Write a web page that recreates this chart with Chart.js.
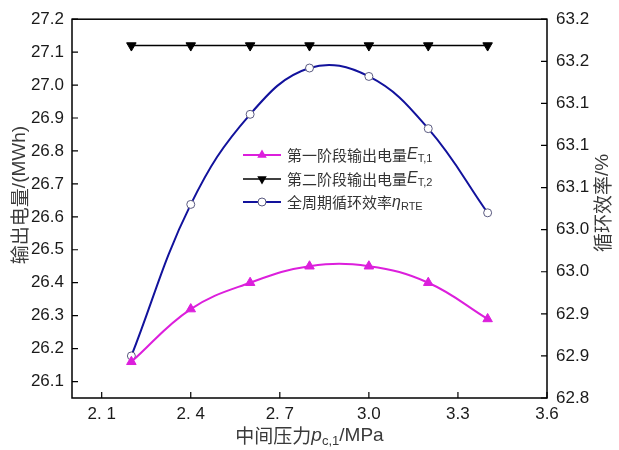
<!DOCTYPE html>
<html>
<head>
<meta charset="utf-8">
<script src="https://cdn.jsdelivr.net/npm/chart.js@4.4.0/dist/chart.umd.min.js"></script>
<style>
  html, body { margin: 0; padding: 0; background: #fff; }
</style>
</head>
<body>
<canvas id="chart" width="619" height="450"></canvas>
<script>
(function(){

// data
var pressure = [2.2, 2.4, 2.6, 2.8, 3.0, 3.2, 3.4];
var stage1 = [26.16, 26.32, 26.40, 26.45, 26.45, 26.40, 26.29];
var stage2 = [27.12, 27.12, 27.12, 27.12, 27.12, 27.12, 27.12];
var rte = [62.85, 63.03, 63.137, 63.192, 63.182, 63.12, 63.02];

// tick values and labels
var xTicks = [2.1, 2.4, 2.7, 3.0, 3.3, 3.6];
var xTickLabels = ["2. 1", "2. 4", "2. 7", "3.0", "3.3", "3.6"];
var leftTicks = [26.1, 26.2, 26.3, 26.4, 26.5, 26.6, 26.7, 26.8, 26.9, 27.0, 27.1, 27.2];
var rightTicks = [62.8, 62.85, 62.9, 62.95, 63.0, 63.05, 63.1, 63.15, 63.2, 63.25];
var rightTickLabels = ["62.8", "62.9", "62.9", "63.0", "63.0", "63.1", "63.1", "63.1", "63.2", "63.2"];

var MAGENTA = "#dc1fdc";
var NAVY = "#12129c";
var CJK = '"Noto Sans CJK SC"';
var LAT = '"Liberation Sans", Arial';

function setTicks(arr){
  return function(scale){
    scale.ticks = arr.map(function(v){ return {value: v}; });
  };
}

// draw a run of text pieces (different fonts / baselines) starting at x
function richWidth(ctx, parts){
  var w = 0;
  parts.forEach(function(p){ ctx.font = p.font; w += ctx.measureText(p.t).width; });
  return w;
}
function drawRich(ctx, parts, x, y){
  parts.forEach(function(p){
    ctx.font = p.font;
    ctx.fillText(p.t, x, y + (p.dy || 0));
    x += ctx.measureText(p.t).width;
  });
}

function marker(ctx, style, x, y){
  ctx.save();
  ctx.beginPath();
  if (style == "up" || style == "down"){
    var r = 5.5, s = (style == "up") ? 1 : -1;
    ctx.moveTo(x, y - s * r);
    ctx.lineTo(x + r * 0.866, y + s * r * 0.5);
    ctx.lineTo(x - r * 0.866, y + s * r * 0.5);
    ctx.closePath();
    ctx.fillStyle = (style == "up") ? MAGENTA : "#000";
    ctx.fill();
  } else {
    ctx.arc(x, y, 4, 0, Math.PI * 2);
    ctx.fillStyle = "#fff";
    ctx.fill();
    ctx.lineWidth = 1;
    ctx.strokeStyle = "#5a5a80";
    ctx.stroke();
  }
  ctx.restore();
}

var decor = {
  id: "decor",
  afterDraw: function(chart){
    var ctx = chart.ctx, a = chart.chartArea;
    var sx = chart.scales.x, sl = chart.scales.y, sr = chart.scales.y1;
    ctx.save();
    // frame
    ctx.strokeStyle = "#000";
    ctx.lineWidth = 1.5;
    ctx.strokeRect(a.left, a.top, a.right - a.left, a.bottom - a.top);
    // inward ticks
    ctx.lineWidth = 1.2;
    ctx.beginPath();
    sx.ticks.forEach(function(t){
      var px = sx.getPixelForValue(t.value);
      ctx.moveTo(px, a.bottom); ctx.lineTo(px, a.bottom - 6);
    });
    sl.ticks.forEach(function(t){
      var py = sl.getPixelForValue(t.value);
      ctx.moveTo(a.left, py); ctx.lineTo(a.left + 6, py);
    });
    sr.ticks.forEach(function(t){
      var py = sr.getPixelForValue(t.value);
      ctx.moveTo(a.right, py); ctx.lineTo(a.right - 6, py);
    });
    ctx.stroke();

    // axis titles
    ctx.fillStyle = "#3a3a3a";
    ctx.textBaseline = "middle";
    var bottomTitle = [
      {t: "中间压力", font: "19px " + CJK},
      {t: "p", font: "italic 19px " + LAT},
      {t: "c,1", font: "13px " + LAT, dy: 5},
      {t: "/MPa", font: "19px " + LAT}
    ];
    var w = richWidth(ctx, bottomTitle);
    drawRich(ctx, bottomTitle, (a.left + a.right) / 2 - w / 2, 436);

    var leftTitle = [
      {t: "输出电量", font: "19px " + CJK},
      {t: "/(MWh)", font: "19px " + LAT}
    ];
    ctx.save();
    ctx.translate(20, 195);
    ctx.rotate(-Math.PI / 2);
    w = richWidth(ctx, leftTitle);
    drawRich(ctx, leftTitle, -w / 2, 0);
    ctx.restore();

    var rightTitle = [
      {t: "循环效率", font: "19px " + CJK},
      {t: "/%", font: "19px " + LAT}
    ];
    ctx.save();
    ctx.translate(603, 203);
    ctx.rotate(-Math.PI / 2);
    w = richWidth(ctx, rightTitle);
    drawRich(ctx, rightTitle, -w / 2, 0);
    ctx.restore();

    // legend
    var rows = [
      {color: MAGENTA, width: 2, m: "up", y: 155, parts: [
        {t: "第一阶段输出电量", font: "15px " + CJK},
        {t: "E", font: "italic 16px " + LAT},
        {t: "T,1", font: "11px " + LAT, dy: 4}]},
      {color: "#000", width: 1.5, m: "down", y: 179, parts: [
        {t: "第二阶段输出电量", font: "15px " + CJK},
        {t: "E", font: "italic 16px " + LAT},
        {t: "T,2", font: "11px " + LAT, dy: 4}]},
      {color: NAVY, width: 2, m: "circle", y: 202, parts: [
        {t: "全周期循环效率", font: "15px " + CJK},
        {t: "η", font: "italic 16px " + LAT, dy: 1},
        {t: "RTE", font: "11px " + LAT, dy: 5}]}
    ];
    rows.forEach(function(r){
      ctx.strokeStyle = r.color;
      ctx.lineWidth = r.width;
      ctx.beginPath();
      ctx.moveTo(243, r.y); ctx.lineTo(281, r.y);
      ctx.stroke();
      marker(ctx, r.m, 262, r.y);
      ctx.fillStyle = "#333";
      drawRich(ctx, r.parts, 287, r.y);
    });
    ctx.restore();
  }
};

var tickFont = {family: LAT, size: 17};

var config = {
  type: "line",
  data: {
    labels: pressure,
    datasets: [{
      data: stage1.map(function(v, i){ return {x: pressure[i], y: v}; }),
      yAxisID: "y",
      borderColor: MAGENTA,
      backgroundColor: MAGENTA,
      borderWidth: 2,
      pointStyle: "triangle",
      pointRadius: 5.5,
      pointBackgroundColor: MAGENTA,
      pointBorderColor: MAGENTA,
      pointBorderWidth: 1,
      tension: 0.4
    }, {
      data: stage2.map(function(v, i){ return {x: pressure[i], y: v}; }),
      yAxisID: "y",
      borderColor: "#000",
      backgroundColor: "#000",
      borderWidth: 1.5,
      pointStyle: "triangle",
      rotation: 180,
      pointRadius: 5.5,
      pointBackgroundColor: "#000",
      pointBorderColor: "#000",
      pointBorderWidth: 1,
      tension: 0
    }, {
      data: rte.map(function(v, i){ return {x: pressure[i], y: v}; }),
      yAxisID: "y1",
      borderColor: NAVY,
      borderWidth: 2,
      pointStyle: "circle",
      pointRadius: 4,
      pointBackgroundColor: "#fff",
      pointBorderColor: "#5a5a80",
      pointBorderWidth: 1,
      tension: 0.4
    }]
  },
  options: {
    responsive: false,
    animation: false,
    layout: {padding: {top: 16, left: 0, right: 0, bottom: 0}},
    plugins: {legend: {display: false}, tooltip: {enabled: false}},
    scales: {
      x: {
        type: "linear",
        min: 2.0, max: 3.6,
        afterBuildTicks: setTicks(xTicks),
        afterFit: function(s){ s.height = 52; },
        grid: {display: false, drawTicks: false},
        border: {display: false},
        ticks: {
          padding: 6, font: tickFont, color: "#1a1a1a", maxRotation: 0, autoSkip: false,
          callback: function(v, i){ return xTickLabels[i]; }
        }
      },
      y: {
        position: "left",
        min: 26.05, max: 27.2,
        afterBuildTicks: setTicks(leftTicks),
        afterFit: function(s){ s.width = 72; },
        grid: {display: false, drawTicks: false},
        border: {display: false},
        ticks: {
          padding: 8, font: tickFont, color: "#1a1a1a", autoSkip: false,
          callback: function(v){ return v.toFixed(1); }
        }
      },
      y1: {
        position: "right",
        min: 62.8, max: 63.25,
        afterBuildTicks: setTicks(rightTicks),
        afterFit: function(s){ s.width = 72; },
        grid: {display: false, drawTicks: false},
        border: {display: false},
        ticks: {
          padding: 9, font: tickFont, color: "#1a1a1a", autoSkip: false,
          callback: function(v, i){ return rightTickLabels[i]; }
        }
      }
    }
  },
  plugins: [decor]
};

var ctx = document.getElementById("chart").getContext("2d");
new Chart(ctx, config);

}());
</script>
</body>
</html>
